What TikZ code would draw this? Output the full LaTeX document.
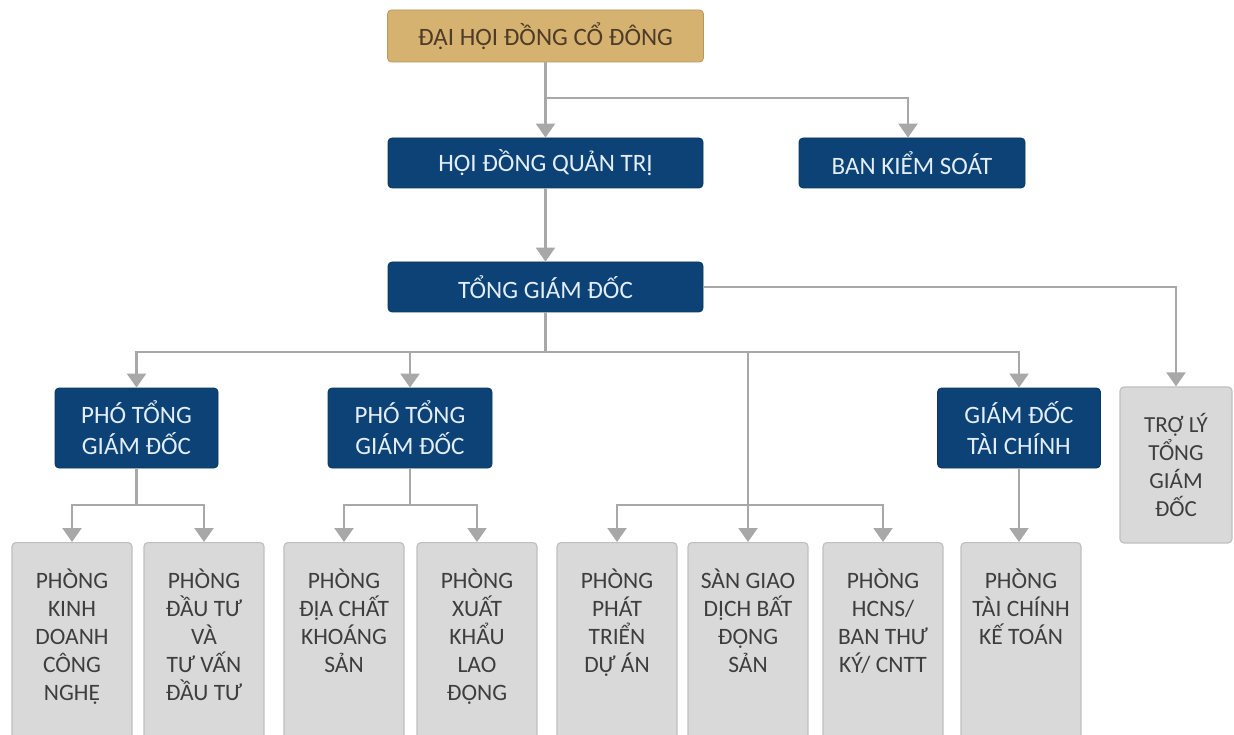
\documentclass[tikz,border=0pt]{standalone}
\usepackage{fontspec}
\setmainfont{Carlito}
\usetikzlibrary{arrows.meta}
\definecolor{navy}{RGB}{12,66,118}
\definecolor{gold}{RGB}{214,178,112}
\definecolor{goldtext}{RGB}{78,60,40}
\definecolor{boxgray}{RGB}{217,217,217}
\definecolor{boxborder}{RGB}{192,192,192}
\definecolor{linegray}{RGB}{168,168,168}
\definecolor{navytext}{RGB}{228,238,248}
\definecolor{depttext}{RGB}{62,62,62}
\newcommand{\firstline}{\rule{0pt}{26pt}}
\begin{document}
\begin{tikzpicture}[x=1pt,y=-1pt,
 base/.style={rounded corners=4pt, inner sep=0pt, align=center},
 goldbox/.style={base, fill=gold, draw=gold!85!black, line width=0.8pt, text=goldtext, font=\fontsize{25}{30}\selectfont},
 navybox/.style={base, fill=navy, draw=navy!80!black, line width=0.8pt, text=navytext, font=\fontsize{25}{31}\selectfont},
 deptbox/.style={base, fill=boxgray, draw=boxborder, line width=1.2pt, minimum width=120pt, minimum height=210pt, anchor=north},
 depttxt/.style={anchor=north, inner sep=0pt, align=center, text=depttext, font=\fontsize{23.5}{28}\selectfont},
 conn/.style={draw=linegray, line width=2.2pt, -{Triangle[width=19pt,length=14pt]}},
 wire/.style={draw=linegray, line width=2.2pt},
]
\useasboundingbox (0,0) rectangle (1234,735);
\clip (0,0) rectangle (1234,735);
\fill[white] (0,0) rectangle (1234,735);

% top levels
\node[goldbox, minimum width=316pt, minimum height=52pt] (dhcd) at (545.5,36) {ĐẠI HỘI ĐỒNG CỔ ĐÔNG};
\node[navybox, minimum width=315pt, minimum height=50pt] (hdqt) at (545.5,163) {HỘI ĐỒNG QUẢN TRỊ};
\node[navybox, minimum width=226pt, minimum height=50pt] (bks) at (912,163) {BAN KIỂM SOÁT};
\node[navybox, minimum width=315pt, minimum height=50pt] (tgd) at (545.5,287) {TỔNG GIÁM ĐỐC};

% second level
\node[navybox, minimum width=163pt, minimum height=80pt] (ptgd1) at (136.5,428) {PHÓ TỔNG\\GIÁM ĐỐC};
\node[navybox, minimum width=164pt, minimum height=80pt] (ptgd2) at (410,428) {PHÓ TỔNG\\GIÁM ĐỐC};
\node[navybox, minimum width=163pt, minimum height=80pt] (gdtc) at (1019,428) {GIÁM ĐỐC\\TÀI CHÍNH};
\node[base, fill=boxgray, draw=boxborder, line width=1.2pt, text=depttext, font=\fontsize{23}{28}\selectfont, minimum width=112pt, minimum height=156pt] (tl) at (1176,465) {TRỢ LÝ\\TỔNG\\GIÁM\\ĐỐC};

% departments
\node[deptbox] (b1) at (72,542) {};
\node[deptbox] (b2) at (204,542) {};
\node[deptbox] (b3) at (344,542) {};
\node[deptbox] (b4) at (477,542) {};
\node[deptbox] (b5) at (617,542) {};
\node[deptbox] (b6) at (748,542) {};
\node[deptbox] (b7) at (883,542) {};
\node[deptbox] (b8) at (1021,542) {};

\node[depttxt] (t1) at ([yshift=-20pt]b1.north) {\firstline PHÒNG\\KINH\\DOANH\\CÔNG\\NGHỆ};
\node[depttxt] (t2) at ([yshift=-20pt]b2.north) {\firstline PHÒNG\\ĐẦU TƯ\\VÀ\\TƯ VẤN\\ĐẦU TƯ};
\node[depttxt] (t3) at ([yshift=-20pt]b3.north) {\firstline PHÒNG\\ĐỊA CHẤT\\KHOÁNG\\SẢN};
\node[depttxt] (t4) at ([yshift=-20pt]b4.north) {\firstline PHÒNG\\XUẤT\\KHẨU\\LAO\\ĐỘNG};
\node[depttxt] (t5) at ([yshift=-20pt]b5.north) {\firstline PHÒNG\\PHÁT\\TRIỂN\\DỰ ÁN};
\node[depttxt] (t6) at ([yshift=-20pt]b6.north) {\firstline SÀN GIAO\\DỊCH BẤT\\ĐỘNG\\SẢN};
\node[depttxt] (t7) at ([yshift=-20pt]b7.north) {\firstline PHÒNG\\HCNS/\\BAN THƯ\\KÝ/ CNTT};
\node[depttxt] (t8) at ([yshift=-20pt]b8.north) {\firstline PHÒNG\\TÀI CHÍNH\\KẾ TOÁN};

% connectors
\coordinate (j1) at (545.5,98);
\draw[conn] (dhcd.south) -- (hdqt.north);
\draw[conn] (j1) -| ([xshift=-4pt]bks.north);
\draw[conn] (hdqt.south) -- (tgd.north);
\draw[conn] (tgd.east) -| (tl.north);
\coordinate (j2) at (545.5,352);
\draw[wire] (tgd.south) -- (j2);
\draw[conn] (j2) -| (ptgd1.north);
\draw[conn] (j2) -| (ptgd2.north);
\draw[conn] (j2) -| (gdtc.north);
\draw[conn] (j2 -| b6.north) -- (b6.north);

\coordinate (s1) at (136.5,505);
\draw[wire] (ptgd1.south) -- (s1);
\draw[conn] (s1) -| (b1.north);
\draw[conn] (s1) -| (b2.north);
\coordinate (s2) at (410,505);
\draw[wire] (ptgd2.south) -- (s2);
\draw[conn] (s2) -| (b3.north);
\draw[conn] (s2) -| (b4.north);
\coordinate (s3) at (748,505);
\draw[conn] (s3) -| (b5.north);
\draw[conn] (s3) -| (b7.north);
\draw[conn] (gdtc.south) -- (gdtc.south |- b8.north);
\end{tikzpicture}
\end{document}
